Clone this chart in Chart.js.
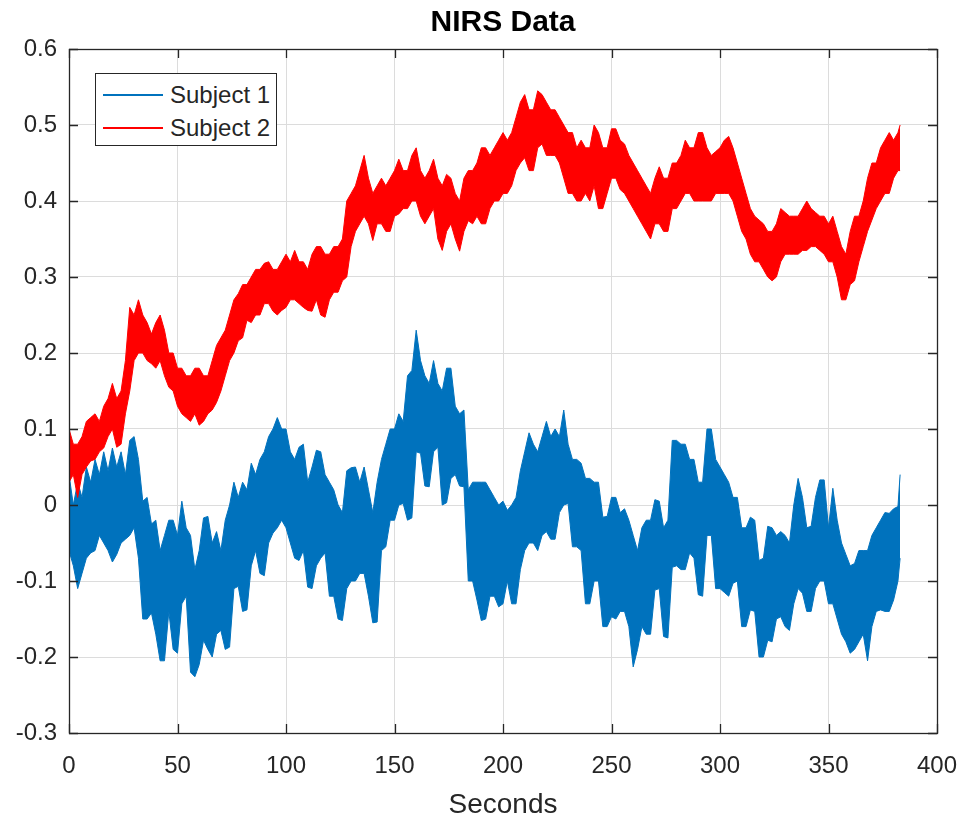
<!DOCTYPE html>
<html>
<head>
<meta charset="utf-8">
<title>NIRS Data</title>
<script src="https://cdn.jsdelivr.net/npm/chart.js@4.4.1/dist/chart.umd.min.js"></script>
<style>
  html, body { margin: 0; padding: 0; background: #fff; }
  #wrap { position: relative; width: 962px; height: 817px; }
  #legend {
    position: absolute; left: 95px; top: 73px; width: 182px; height: 73px;
    border: 1px solid #262626; background: #fff; box-sizing: border-box;
    font-family: "Liberation Sans", Arial, sans-serif; font-size: 24px; color: #262626;
  }
  #legend .row { position: absolute; left: 0; width: 100%; height: 28px; line-height: 28px; white-space: nowrap; }
  #legend .swatch { position: absolute; left: 7px; top: 13px; width: 60px; height: 0; border-top: 2px solid; }
  #legend .lbl { position: absolute; left: 74px; top: 0; }
</style>
</head>
<body>
<div id="wrap">
  <canvas id="lineChart" width="962" height="817"></canvas>
  <div id="legend"></div>
</div>
<script>
// sample times (seconds), read every 2 s off the plot
const times = [0, 2, 4, 6, 8, 10, 12, 14, 16, 18,
  20, 22, 24, 26, 28, 30, 32, 34, 36, 38,
  40, 42, 44, 46, 48, 50, 52, 54, 56, 58,
  60, 62, 64, 66, 68, 70, 72, 74, 76, 78,
  80, 82, 84, 86, 88, 90, 92, 94, 96, 98,
  100, 102, 104, 106, 108, 110, 112, 114, 116, 118,
  120, 122, 124, 126, 128, 130, 132, 134, 136, 138,
  140, 142, 144, 146, 148, 150, 152, 154, 156, 158,
  160, 162, 164, 166, 168, 170, 172, 174, 176, 178,
  180, 182, 184, 186, 188, 190, 192, 194, 196, 198,
  200, 202, 204, 206, 208, 210, 212, 214, 216, 218,
  220, 222, 224, 226, 228, 230, 232, 234, 236, 238,
  240, 242, 244, 246, 248, 250, 252, 254, 256, 258,
  260, 262, 264, 266, 268, 270, 272, 274, 276, 278,
  280, 282, 284, 286, 288, 290, 292, 294, 296, 298,
  300, 302, 304, 306, 308, 310, 312, 314, 316, 318,
  320, 322, 324, 326, 328, 330, 332, 334, 336, 338,
  340, 342, 344, 346, 348, 350, 352, 354, 356, 358,
  360, 362, 364, 366, 368, 370, 372, 374, 376, 378,
  380, 382, 383];

// Subject 1: upper and lower edge of the noisy trace
const subject1High = [0.04, 0.00, 0.03, 0.01, 0.05, 0.03, 0.06, 0.04, 0.07, 0.045,
  0.075, 0.05, 0.07, 0.04, 0.085, 0.09, 0.06, 0.005, 0.01, -0.025,
  -0.02, -0.06, -0.04, -0.02, -0.02, -0.04, 0.005, -0.03, -0.04, -0.085,
  -0.06, -0.017, -0.015, -0.05, -0.035, -0.06, -0.02, 0.00, 0.03, 0.01,
  0.03, 0.02, 0.055, 0.04, 0.06, 0.07, 0.09, 0.10, 0.115, 0.10,
  0.10, 0.07, 0.06, 0.076, 0.08, 0.03, 0.05, 0.072, 0.07, 0.04,
  0.03, 0.02, 0.00, -0.01, 0.045, 0.049, 0.05, 0.03, 0.05, 0.02,
  -0.01, 0.03, 0.06, 0.08, 0.10, 0.10, 0.12, 0.11, 0.17, 0.177,
  0.23, 0.19, 0.17, 0.16, 0.19, 0.16, 0.15, 0.18, 0.18, 0.13,
  0.12, 0.125, 0.02, 0.03, 0.03, 0.03, 0.03, 0.02, 0.01, 0.00,
  0.005, -0.007, 0.00, 0.01, 0.045, 0.07, 0.095, 0.08, 0.07, 0.09,
  0.11, 0.09, 0.10, 0.09, 0.125, 0.08, 0.06, 0.06, 0.055, 0.035,
  0.035, 0.03, 0.03, -0.016, -0.015, 0.01, 0.01, -0.01, -0.005, -0.02,
  -0.04, -0.06, -0.03, -0.02, -0.02, 0.007, 0.005, -0.03, -0.02, 0.085,
  0.085, 0.08, 0.08, 0.06, 0.06, 0.03, 0.03, 0.10, 0.10, 0.06,
  0.05, 0.04, 0.03, 0.01, 0.01, -0.03, -0.03, -0.016, -0.02, -0.073,
  -0.07, -0.028, -0.03, -0.04, -0.035, -0.04, -0.05, 0.00, 0.035, 0.01,
  -0.03, -0.028, 0.01, 0.033, 0.033, -0.03, 0.022, -0.02, -0.05, -0.065,
  -0.08, -0.077, -0.06, -0.06, -0.06, -0.04, -0.03, -0.02, -0.01, -0.011,
  -0.005, -0.002, 0.04];
const subject1Low = [-0.06, -0.08, -0.11, -0.09, -0.07, -0.063, -0.06, -0.04, -0.05, -0.06,
  -0.075, -0.065, -0.05, -0.045, -0.04, -0.03, -0.07, -0.15, -0.15, -0.142,
  -0.17, -0.205, -0.205, -0.14, -0.19, -0.195, -0.13, -0.12, -0.22, -0.226,
  -0.21, -0.178, -0.19, -0.2, -0.17, -0.165, -0.19, -0.187, -0.11, -0.107,
  -0.14, -0.138, -0.08, -0.06, -0.09, -0.093, -0.05, -0.037, -0.03, -0.02,
  -0.03, -0.05, -0.07, -0.073, -0.06, -0.108, -0.11, -0.08, -0.07, -0.063,
  -0.12, -0.12, -0.15, -0.152, -0.11, -0.10, -0.10, -0.09, -0.09, -0.12,
  -0.155, -0.154, -0.06, -0.055, -0.02, -0.02, 0.00, 0.002, -0.02, -0.017,
  0.07, 0.068, 0.025, 0.024, 0.07, 0.076, 0.00, 0.003, 0.035, 0.04,
  0.025, 0.024, -0.10, -0.10, -0.125, -0.152, -0.15, -0.12, -0.12, -0.134,
  -0.13, -0.10, -0.13, -0.13, -0.085, -0.06, -0.05, -0.05, -0.06, -0.04,
  -0.035, -0.045, -0.045, -0.01, 0.00, 0.002, -0.055, -0.055, -0.06, -0.13,
  -0.13, -0.10, -0.10, -0.16, -0.16, -0.147, -0.15, -0.14, -0.14, -0.16,
  -0.213, -0.19, -0.16, -0.17, -0.17, -0.112, -0.11, -0.173, -0.175, -0.082,
  -0.08, -0.085, -0.085, -0.063, -0.07, -0.118, -0.12, -0.04, -0.04, -0.11,
  -0.11, -0.115, -0.12, -0.103, -0.10, -0.16, -0.16, -0.138, -0.14, -0.20,
  -0.20, -0.178, -0.18, -0.15, -0.147, -0.16, -0.165, -0.13, -0.11, -0.116,
  -0.14, -0.14, -0.11, -0.10, -0.10, -0.13, -0.13, -0.15, -0.17, -0.18,
  -0.195, -0.19, -0.18, -0.17, -0.205, -0.16, -0.14, -0.138, -0.14, -0.14,
  -0.125, -0.10, -0.07];

// Subject 2: upper and lower edge of the noisy trace
const subject2High = [0.10, 0.08, 0.08, 0.09, 0.11, 0.115, 0.12, 0.11, 0.13, 0.14,
  0.16, 0.14, 0.15, 0.19, 0.26, 0.25, 0.27, 0.25, 0.24, 0.225,
  0.24, 0.25, 0.23, 0.20, 0.20, 0.18, 0.18, 0.17, 0.17, 0.18,
  0.18, 0.17, 0.17, 0.19, 0.21, 0.22, 0.23, 0.25, 0.27, 0.278,
  0.29, 0.29, 0.30, 0.31, 0.31, 0.318, 0.32, 0.31, 0.31, 0.32,
  0.33, 0.32, 0.335, 0.32, 0.32, 0.31, 0.33, 0.34, 0.34, 0.33,
  0.33, 0.34, 0.34, 0.35, 0.40, 0.41, 0.42, 0.44, 0.46, 0.43,
  0.41, 0.42, 0.43, 0.42, 0.43, 0.44, 0.455, 0.44, 0.44, 0.46,
  0.47, 0.44, 0.43, 0.44, 0.455, 0.43, 0.42, 0.435, 0.43, 0.41,
  0.40, 0.43, 0.44, 0.44, 0.45, 0.47, 0.47, 0.46, 0.47, 0.48,
  0.49, 0.48, 0.49, 0.51, 0.53, 0.54, 0.52, 0.52, 0.545, 0.54,
  0.53, 0.52, 0.52, 0.51, 0.50, 0.49, 0.49, 0.47, 0.48, 0.47,
  0.47, 0.50, 0.49, 0.47, 0.47, 0.495, 0.495, 0.48, 0.475, 0.46,
  0.45, 0.44, 0.43, 0.42, 0.41, 0.43, 0.445, 0.43, 0.43, 0.45,
  0.45, 0.46, 0.48, 0.47, 0.47, 0.49, 0.49, 0.47, 0.46, 0.465,
  0.47, 0.48, 0.485, 0.47, 0.45, 0.43, 0.41, 0.39, 0.38, 0.375,
  0.37, 0.36, 0.36, 0.37, 0.39, 0.385, 0.38, 0.38, 0.38, 0.39,
  0.40, 0.39, 0.385, 0.38, 0.38, 0.37, 0.38, 0.36, 0.34, 0.33,
  0.36, 0.38, 0.38, 0.40, 0.43, 0.45, 0.45, 0.47, 0.48, 0.49,
  0.48, 0.49, 0.50];
const subject2Low = [0.03, 0.04, 0.01, 0.04, 0.05, 0.058, 0.06, 0.07, 0.075, 0.09,
  0.10, 0.076, 0.08, 0.12, 0.15, 0.19, 0.20, 0.20, 0.19, 0.186,
  0.18, 0.19, 0.17, 0.155, 0.15, 0.13, 0.12, 0.115, 0.11, 0.12,
  0.105, 0.11, 0.12, 0.125, 0.135, 0.15, 0.17, 0.19, 0.20, 0.216,
  0.22, 0.243, 0.24, 0.25, 0.25, 0.265, 0.265, 0.255, 0.25, 0.256,
  0.26, 0.27, 0.27, 0.265, 0.26, 0.256, 0.255, 0.27, 0.25, 0.247,
  0.27, 0.28, 0.28, 0.295, 0.30, 0.34, 0.36, 0.37, 0.38, 0.37,
  0.348, 0.37, 0.37, 0.36, 0.36, 0.38, 0.383, 0.39, 0.39, 0.40,
  0.40, 0.38, 0.37, 0.38, 0.39, 0.35, 0.335, 0.36, 0.37, 0.35,
  0.334, 0.36, 0.374, 0.37, 0.38, 0.37, 0.37, 0.39, 0.40, 0.40,
  0.41, 0.41, 0.42, 0.44, 0.45, 0.457, 0.44, 0.44, 0.47, 0.475,
  0.46, 0.46, 0.46, 0.45, 0.43, 0.41, 0.41, 0.40, 0.40, 0.41,
  0.40, 0.42, 0.39, 0.39, 0.41, 0.43, 0.43, 0.415, 0.41, 0.40,
  0.39, 0.38, 0.37, 0.36, 0.35, 0.37, 0.37, 0.36, 0.36, 0.39,
  0.39, 0.40, 0.41, 0.41, 0.40, 0.40, 0.40, 0.40, 0.40, 0.41,
  0.41, 0.41, 0.41, 0.40, 0.38, 0.36, 0.35, 0.33, 0.32, 0.32,
  0.31, 0.30, 0.295, 0.30, 0.32, 0.33, 0.33, 0.33, 0.33, 0.335,
  0.335, 0.34, 0.34, 0.335, 0.33, 0.32, 0.32, 0.30, 0.27, 0.27,
  0.29, 0.295, 0.32, 0.34, 0.36, 0.375, 0.39, 0.40, 0.41, 0.41,
  0.43, 0.44, 0.44];

const seriesNames = ['Subject 1', 'Subject 2'];
const seriesColors = ['#0072BD', '#FF0000'];
const xTicks = [0, 50, 100, 150, 200, 250, 300, 350, 400];
const yTicks = [-0.3, -0.2, -0.1, 0, 0.1, 0.2, 0.3, 0.4, 0.5, 0.6];
const chartTitle = 'NIRS Data';

const axisColor = '#262626';
const gridColor = '#dcdcdc';
const fontFamily = '"Liberation Sans", Arial, Helvetica, sans-serif';

function points(ys) {
  return times.map((t, i) => ({ x: t, y: ys[i] }));
}

// each subject = upper edge + lower edge filled up to it
function band(name, color, hi, lo, order) {
  return [
    { label: name, data: points(hi), borderColor: color, backgroundColor: color,
      borderWidth: 1, pointRadius: 0, fill: false, order: order },
    { label: '', data: points(lo), borderColor: color, backgroundColor: color,
      borderWidth: 1, pointRadius: 0, fill: '-1', order: order }
  ];
}

// MATLAB style box with inward ticks on all four sides, title centred on the axes
const boxPlugin = {
  id: 'box',
  afterDraw(chart) {
    const { ctx, chartArea: a, scales } = chart;
    const tl = 9;
    ctx.save();
    ctx.strokeStyle = axisColor;
    ctx.lineWidth = 1.3;
    ctx.beginPath();
    xTicks.forEach(v => {
      const x = Math.round(scales.x.getPixelForValue(v)) + 0.5;
      ctx.moveTo(x, a.bottom); ctx.lineTo(x, a.bottom - tl);
      ctx.moveTo(x, a.top); ctx.lineTo(x, a.top + tl);
    });
    yTicks.forEach(v => {
      const y = Math.round(scales.y.getPixelForValue(v)) + 0.5;
      ctx.moveTo(a.left, y); ctx.lineTo(a.left + tl, y);
      ctx.moveTo(a.right, y); ctx.lineTo(a.right - tl, y);
    });
    ctx.stroke();
    ctx.strokeRect(a.left + 0.5, a.top + 0.5, a.right - a.left, a.bottom - a.top);

    ctx.fillStyle = '#000';
    ctx.font = 'bold 30px ' + fontFamily;
    ctx.textAlign = 'center';
    ctx.textBaseline = 'middle';
    ctx.fillText(chartTitle, (a.left + a.right) / 2, 23);
    ctx.restore();
  }
};

var ctx = document.getElementById('lineChart').getContext('2d');

const chart = new Chart(ctx, {
  type: 'line',
  data: {
    datasets: [
      ...band(seriesNames[1], seriesColors[1], subject2High, subject2Low, 0),
      ...band(seriesNames[0], seriesColors[0], subject1High, subject1Low, 1)
    ]
  },
  options: {
    responsive: false,
    animation: false,
    layout: { padding: { left: 0, right: 25, top: 49, bottom: 0 } },
    plugins: {
      legend: { display: false },
      tooltip: { enabled: false },
      title: { display: false }
    },
    scales: {
      x: {
        type: 'linear', min: 0, max: 400,
        afterBuildTicks(scale) { scale.ticks = xTicks.map(v => ({ value: v })); },
        afterFit(scale) { scale.height = 84; },
        // invisible tick marks only push the labels down
        grid: { color: gridColor, drawTicks: true, tickLength: 15, tickColor: 'rgba(0,0,0,0)' },
        border: { display: false },
        ticks: { color: axisColor, padding: 4, maxRotation: 0,
          font: { family: fontFamily, size: 24 } },
        title: { display: true, text: 'Seconds', color: axisColor,
          font: { family: fontFamily, size: 28 }, padding: { top: 0, bottom: -5 } }
      },
      y: {
        type: 'linear', min: -0.3, max: 0.6,
        afterBuildTicks(scale) { scale.ticks = yTicks.map(v => ({ value: v })); },
        afterFit(scale) { scale.width = 69; },
        grid: { color: gridColor, drawTicks: false },
        border: { display: false },
        ticks: { color: axisColor, padding: 12,
          font: { family: fontFamily, size: 24 },
          callback: v => String(Math.round(v * 10) / 10) }
      }
    }
  },
  plugins: [boxPlugin]
});

// legend box inside the axes
const legend = document.getElementById('legend');
seriesNames.forEach((name, i) => {
  const row = document.createElement('div');
  row.className = 'row';
  row.style.top = (7 + i * 33) + 'px';
  row.innerHTML = '<span class="swatch" style="border-color:' + seriesColors[i] + '"></span><span class="lbl">' + name + '</span>';
  legend.appendChild(row);
});
</script>
</body>
</html>
